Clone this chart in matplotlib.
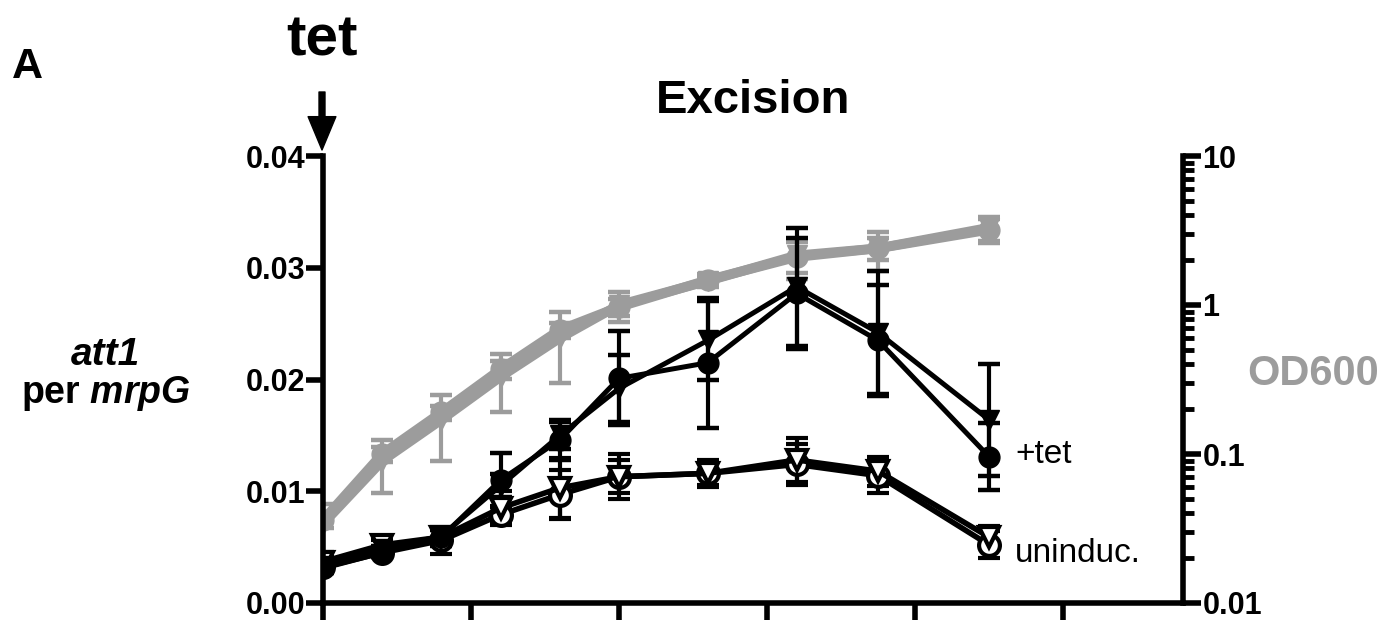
import numpy as np
import matplotlib
matplotlib.use('Agg')
import matplotlib.pyplot as plt

plt.rcParams['font.family'] = ['Liberation Sans', 'DejaVu Sans']
plt.rcParams['mathtext.fontset'] = 'custom'
plt.rcParams['mathtext.it'] = 'Liberation Sans:italic:bold'
plt.rcParams['mathtext.rm'] = 'Liberation Sans:bold'

# time after tet addition (h)
time_h = [0, 0.4, 0.8, 1.2, 1.6, 2.0, 2.6, 3.2, 3.75, 4.5]

# att1 per mrpG, +tet
tet_circ = [0.0031, 0.0045, 0.0059, 0.0110, 0.0146, 0.0201, 0.0215, 0.0277, 0.0235, 0.0131]
tet_circ_err = [0.0004, 0.0004, 0.0008, 0.0024, 0.0018, 0.0042, 0.0058, 0.0050, 0.0050, 0.0030]
tet_tri = [0.0033, 0.0048, 0.0060, 0.0105, 0.0150, 0.0192, 0.0235, 0.0283, 0.0242, 0.0164]
tet_tri_err = [0.0003, 0.0003, 0.0005, 0.0010, 0.0012, 0.0030, 0.0035, 0.0053, 0.0055, 0.0050]

# att1 per mrpG, uninduced
un_circ = [0.0032, 0.0045, 0.0056, 0.0079, 0.0097, 0.0113, 0.0116, 0.0124, 0.0114, 0.0052]
un_circ_err = [0.0003, 0.0003, 0.0012, 0.0008, 0.0022, 0.0020, 0.0012, 0.0018, 0.0016, 0.0012]
un_tri = [0.0037, 0.0052, 0.0059, 0.0085, 0.0103, 0.0113, 0.0116, 0.0128, 0.0118, 0.0059]
un_tri_err = [0.0004, 0.0004, 0.0006, 0.0015, 0.0027, 0.0015, 0.0010, 0.0020, 0.0013, 0.0010]

# OD600 (right axis, log)
od_tet = [0.036, 0.10, 0.19, 0.37, 0.68, 0.97, 1.47, 2.1, 2.4, 3.2]
od_tet_err = [0.004, 0.012, 0.02, 0.05, 0.08, 0.12, 0.15, 0.6, 0.4, 0.6]
od_un = [0.034, 0.09, 0.17, 0.33, 0.6, 1.0, 1.45, 2.15, 2.4, 3.3]
od_un_err = [0.012, 0.035, 0.08, 0.14, 0.3, 0.23, 0.1, 0.5, 0.7, 0.6]

left_ticks = [0.0, 0.01, 0.02, 0.03, 0.04]
left_labels = ['0.00', '0.01', '0.02', '0.03', '0.04']
right_ticks = [0.01, 0.1, 1, 10]
right_labels = ['0.01', '0.1', '1', '10']

gray = '#9c9c9c'
W, H = 1385, 620

fig = plt.figure(figsize=(W / 100, H / 100), dpi=100)
ax = fig.add_axes([323 / W, 1 - 603 / H, (1183 - 323) / W, (603 - 156) / H])
ax2 = ax.twinx()
ax.set_zorder(ax2.get_zorder() + 1)
ax.patch.set_visible(False)

eb = dict(elinewidth=3, capsize=8, capthick=3.2)

# OD600 curves
ax2.errorbar(time_h, od_un, yerr=od_un_err, color=gray, marker='v', ms=15, lw=7, **eb)
ax2.errorbar(time_h, od_tet, yerr=od_tet_err, color=gray, marker='o', ms=15, lw=7, **eb)

# excision curves
ax.errorbar(time_h, un_circ, yerr=un_circ_err, color='k', marker='o', ms=15, mfc='white',
            mec='k', mew=3, lw=4, **eb)
ax.errorbar(time_h, un_tri, yerr=un_tri_err, color='k', marker='v', ms=15, mfc='white',
            mec='k', mew=3, lw=4, **eb)
ax.errorbar(time_h, tet_circ, yerr=tet_circ_err, color='k', marker='o', ms=15, lw=3.6, **eb)
ax.errorbar(time_h, tet_tri, yerr=tet_tri_err, color='k', marker='v', ms=15, lw=3.6, **eb)

ax.set_xlim(0, 860 / 148)
ax.set_ylim(0, 0.04)
ax2.set_yscale('log')
ax2.set_ylim(0.01, 10)

for a in (ax, ax2):
    a.spines['top'].set_visible(False)
    for s in a.spines.values():
        s.set_linewidth(4)
ax.spines['right'].set_visible(False)
ax2.spines['left'].set_visible(False)
ax2.spines['bottom'].set_visible(False)

ax.set_xticks(np.arange(0, 6, 1))
ax.set_xticklabels([])
ax.tick_params(axis='x', length=20, width=4)
ax.set_yticks(left_ticks)
ax.set_yticklabels(left_labels, fontsize=22, fontweight='bold')
ax.tick_params(axis='y', length=12, width=4, pad=1)

ax2.set_yticks(right_ticks)
ax2.set_yticklabels(right_labels, fontsize=22, fontweight='bold')
ax2.tick_params(axis='y', which='major', length=13, width=4, pad=1)
ax2.tick_params(axis='y', which='minor', length=8, width=3.5)

# texts
fig.text(12 / W, 1 - 78 / H, 'A', fontsize=31, fontweight='bold', ha='left', va='baseline')
fig.text(322 / W, 1 - 55 / H, 'tet', fontsize=42, fontweight='bold', ha='center', va='baseline')
fig.text(753 / W, 1 - 113 / H, 'Excision', fontsize=34, fontweight='bold', ha='center', va='baseline')
fig.text(105 / W, 1 - 365 / H, 'att1', fontsize=28, fontweight='bold', style='italic',
         ha='center', va='baseline')
fig.text(106 / W, 1 - 403 / H, r'per $mrpG$', fontsize=27, fontweight='bold',
         ha='center', va='baseline')
fig.text(1247 / W, 1 - 385 / H, 'OD600', fontsize=30, fontweight='bold', color=gray,
         ha='left', va='baseline')
fig.text(1015 / W, 1 - 463 / H, '+tet', fontsize=24, ha='left', va='baseline')
fig.text(1015 / W, 1 - 562 / H, 'uninduc.', fontsize=24, ha='left', va='baseline')

# arrow marking tet addition
ax.annotate('', xy=(322 / W, 1 - 150 / H), xytext=(322 / W, 1 - 92 / H),
            xycoords='figure fraction', textcoords='figure fraction',
            arrowprops=dict(width=4.3, headwidth=20, headlength=24, color='k', shrink=0))

fig.savefig('out.png', dpi=100)
